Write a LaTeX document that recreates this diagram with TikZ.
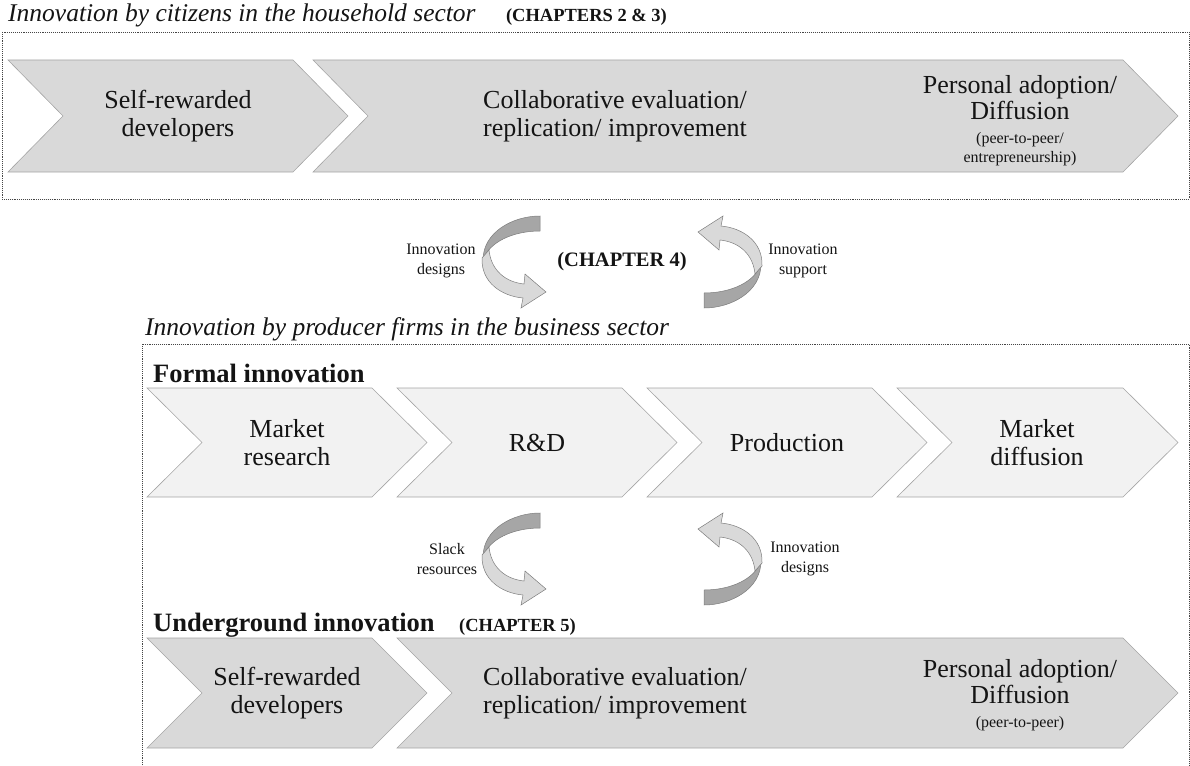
\documentclass[tikz,border=0pt]{standalone}
\usepackage{fontspec}
\setmainfont{Liberation Serif}
\usetikzlibrary{positioning}
\definecolor{chevgray}{RGB}{217,217,217}
\definecolor{chevpale}{RGB}{242,242,242}
\definecolor{chevline}{RGB}{165,165,165}
\definecolor{frameline}{RGB}{70,70,70}
\definecolor{ringdark}{RGB}{166,166,166}
\definecolor{ringpale}{RGB}{217,217,217}
\definecolor{ringline}{RGB}{125,125,125}
\definecolor{inkblack}{RGB}{20,20,20}

\newcommand{\chevfont}{\fontsize{26}{28}\selectfont}
\newcommand{\notefont}{\fontsize{16}{19}\selectfont}
\newcommand{\ringfont}{\fontsize{16}{20}\selectfont}
\newcommand{\chapfont}{\fontsize{18.5}{20}\selectfont\bfseries}
\newcommand{\midchapfont}{\fontsize{20.5}{24}\selectfont\bfseries}
\newcommand{\titlefont}{\fontsize{25.5}{28}\selectfont\itshape}
\newcommand{\rowfont}{\fontsize{26.5}{28}\selectfont\bfseries}

% chevron: style, left x, tip x, top y, bottom y
\newcommand{\chevbar}[5]{%
  \draw[#1] (#2,#4) -- (#3-55,#4) -- (#3,{(#4+#5)/2}) -- (#3-55,#5) -- (#2,#5) -- (#2+55,{(#4+#5)/2}) -- cycle;}

\tikzset{
  frame/.style={draw=frameline, densely dotted, line width=0.9pt},
  darkchev/.style={fill=chevgray, draw=chevline, line width=0.6pt},
  palechev/.style={fill=chevpale, draw=chevline, line width=0.6pt},
  steptext/.style={font=\chevfont, align=center, text=inkblack, inner sep=0pt},
  ringtext/.style={font=\ringfont, align=center, text=inkblack, inner sep=0pt},
  headtext/.style={anchor=base west, inner sep=0pt, text=inkblack},
  pics/cyclearrow/.style={code={
    \draw[fill=ringdark, draw=ringline, line width=0.5pt]
      (27,-46) .. controls (0,-46) and (-30,-30) .. (-30,-2)
      .. controls (-24,-20) and (0,-31) .. (27,-31) -- cycle;
    \draw[fill=ringpale, draw=ringline, line width=0.5pt]
      (-31,-4) .. controls (-32,20) and (-12,34) .. (10,36) -- (8,46) -- (33,30) -- (12,12) -- (11,22)
      .. controls (-8,20) and (-22,8) .. (-24,-12) -- cycle;
  }}
}

\begin{document}
\begin{tikzpicture}[x=1pt, y=-1pt]
  \useasboundingbox (0,0) rectangle (1190,765);

  % Household sector
  \node[headtext, font=\titlefont] (hhtitle) at (8,22) {Innovation by citizens in the household sector};
  \node[headtext, font=\chapfont] (hhchap) at ([xshift=30pt]hhtitle.base east) {(CHAPTERS 2 \& 3)};
  \draw[frame] (2,32) rectangle (1189,199);

  \chevbar{darkchev}{8}{348}{60}{172}
  \chevbar{darkchev}{313}{1178}{60}{172}
  \node[steptext] (hhdev) at (178,116) {Self-rewarded\\developers};
  \node[steptext] (hheval) at (615,116) {Collaborative evaluation/\\replication/ improvement};
  \node[steptext] (hhdiff) at (1020,121) {Personal adoption/\\[-2pt]Diffusion\\[-4pt]\notefont (peer-to-peer/\\[-9pt]\notefont entrepreneurship)};

  % Exchange between sectors
  \pic at (513,262) {cyclearrow};
  \pic[rotate=180] at (731,262) {cyclearrow};
  \node[ringtext] (xdesigns) at (441,261) {Innovation\\designs};
  \node[ringtext] (xsupport) at (803,261) {Innovation\\support};
  \node[font=\midchapfont, text=inkblack, inner sep=0pt] (xchap) at (622,262) {(CHAPTER 4)};

  % Business sector
  \node[headtext, font=\titlefont] (bstitle) at (145,335) {Innovation by producer firms in the business sector};
  \draw[frame] (142,765) -- (142,344) -- (1189,344) -- (1189,765);

  % Formal innovation
  \node[headtext, font=\rowfont] (formal) at (153,382) {Formal innovation};
  \chevbar{palechev}{147}{427}{388}{497}
  \chevbar{palechev}{397}{677}{388}{497}
  \chevbar{palechev}{647}{927}{388}{497}
  \chevbar{palechev}{897}{1178}{388}{497}
  \node[steptext] (fmarket) at (287,442.5) {Market\\research};
  \node[steptext] (frd) at (537,442.5) {R\&D};
  \node[steptext] (fprod) at (787,442.5) {Production};
  \node[steptext] (fdiff) at (1037,442.5) {Market\\diffusion};

  % Exchange between formal and underground
  \pic at (513,559) {cyclearrow};
  \pic[rotate=180] at (731,559) {cyclearrow};
  \node[ringtext] (uslack) at (447,559) {Slack\\resources};
  \node[ringtext] (udesigns) at (805,559) {Innovation\\designs};

  % Underground innovation
  \node[headtext, font=\rowfont] (under) at (153,631) {Underground innovation};
  \node[headtext, font=\chapfont] (underchap) at ([xshift=24pt]under.base east) {(CHAPTER 5)};
  \chevbar{darkchev}{147}{427}{638}{748}
  \chevbar{darkchev}{397}{1178}{638}{748}
  \node[steptext] (udev) at (287,693) {Self-rewarded\\developers};
  \node[steptext] (ueval) at (615,693) {Collaborative evaluation/\\replication/ improvement};
  \node[steptext] (udiff) at (1020,695) {Personal adoption/\\[-2pt]Diffusion\\[-4pt]\notefont (peer-to-peer)};
\end{tikzpicture}
\end{document}
